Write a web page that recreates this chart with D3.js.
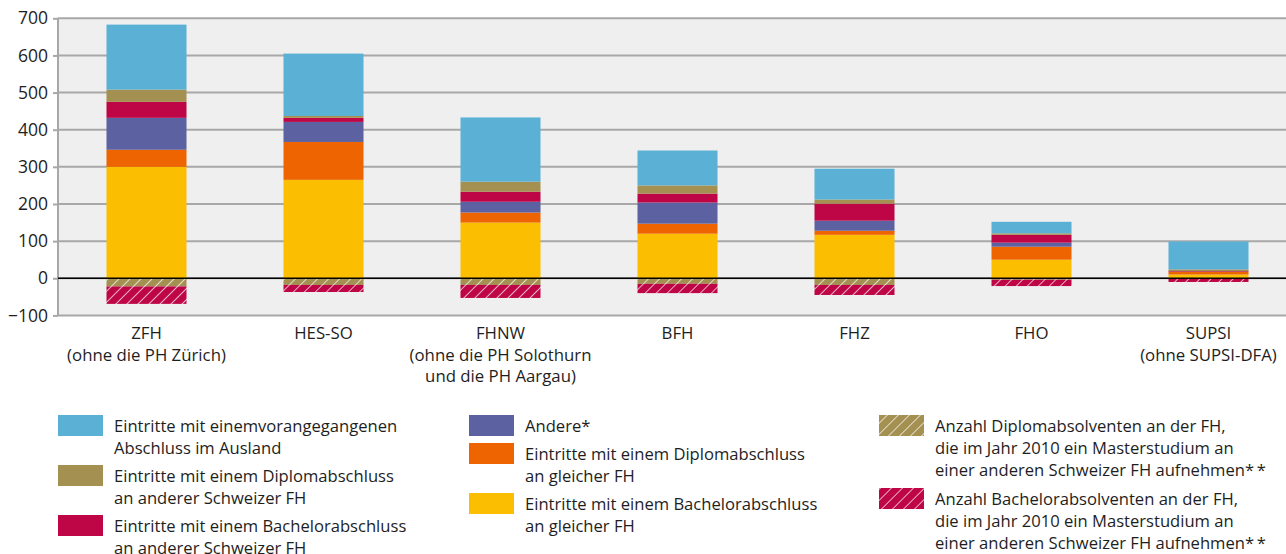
<!DOCTYPE html>
<html>
<head>
<meta charset="utf-8">
<script src="https://cdnjs.cloudflare.com/ajax/libs/d3/7.8.5/d3.min.js"></script>
<style>
  body { margin: 0; background: #fff; }
  text { font-family: "Open Sans", "Noto Sans", sans-serif; fill: #1e1e1e; }
  .cat_label { font-size: 16.8px; }
  .legend_text { font-size: 16.6px; }
</style>
</head>
<body>
<div id="chart"></div>
<script>

/* Masterstudium: Eintritte nach vorangegangenem Abschluss, stacked bars */

// data

var categories = ["ZFH", "HES-SO", "FHNW", "BFH", "FHZ", "FHO", "SUPSI"];

var categoryLines = [
  ["ZFH", "(ohne die PH Zürich)"],
  ["HES-SO"],
  ["FHNW", "(ohne die PH Solothurn", "und die PH Aargau)"],
  ["BFH"],
  ["FHZ"],
  ["FHO"],
  ["SUPSI", "(ohne SUPSI-DFA)"]
];

var bachelorGleich = [300, 265, 150, 120, 117, 50, 10];
var diplomGleich   = [46, 102, 27, 27, 11, 35, 7];
var andere         = [86, 54, 29, 57, 27, 11, 0];
var bachelorAnder  = [43, 11, 27, 24, 46, 21, 2];
var diplomAnder    = [33, 5, 27, 22, 11, 4, 5];
var ausland        = [175, 168, 173, 94, 83, 31, 75];

var diplomAbsolv   = [-22, -18, -18, -15, -18, -4, -2];
var bachelorAbsolv = [-47, -19, -35, -25, -27, -17, -8];

var yTicks = [-100, 0, 100, 200, 300, 400, 500, 600, 700];

// series in stacking order (bottom to top, then negatives downward)

var series = [
  { key: "bachelorGleich", values: bachelorGleich, color: "#fbbe00", hatch: false },
  { key: "diplomGleich",   values: diplomGleich,   color: "#ee6400", hatch: false },
  { key: "andere",         values: andere,         color: "#5c61a2", hatch: false },
  { key: "bachelorAnder",  values: bachelorAnder,  color: "#be0646", hatch: false },
  { key: "diplomAnder",    values: diplomAnder,    color: "#a49152", hatch: false },
  { key: "ausland",        values: ausland,        color: "#5ab0d5", hatch: false },
  { key: "diplomAbsolv",   values: diplomAbsolv,   color: "#a49152", hatch: true },
  { key: "bachelorAbsolv", values: bachelorAbsolv, color: "#be0646", hatch: true }
];

// legend columns

var legendCols = [
  { x: 58, items: [
    { key: "ausland", lines: ["Eintritte mit einemvorangegangenen", "Abschluss im Ausland"] },
    { key: "diplomAnder", lines: ["Eintritte mit einem Diplomabschluss", "an anderer Schweizer FH"] },
    { key: "bachelorAnder", lines: ["Eintritte mit einem Bachelorabschluss", "an anderer Schweizer FH"] }
  ]},
  { x: 469, items: [
    { key: "andere", lines: ["Andere*"] },
    { key: "diplomGleich", lines: ["Eintritte mit einem Diplomabschluss", "an gleicher FH"] },
    { key: "bachelorGleich", lines: ["Eintritte mit einem Bachelorabschluss", "an gleicher FH"] }
  ]},
  { x: 879, items: [
    { key: "diplomAbsolv", lines: ["Anzahl Diplomabsolventen an der FH,", "die im Jahr 2010 ein Masterstudium an", "einer anderen Schweizer FH aufnehmen*\u2009*"] },
    { key: "bachelorAbsolv", lines: ["Anzahl Bachelorabsolventen an der FH,", "die im Jahr 2010 ein Masterstudium an", "einer anderen Schweizer FH aufnehmen*\u2009*"] }
  ]}
];

// sizes

var width = 1286,
    height = 554,
    plotLeft = 58,
    plotRight = 1297,
    plotTop = 18.3,
    plotBottom = 315.4;

var svg = d3.select("#chart")
  .append("svg")
    .attr("width", width)
    .attr("height", height);

// scales

var xScale = d3.scaleBand()
  .domain(categories)
  .range([plotLeft, plotRight])
  .paddingInner(0.548)
  .paddingOuter(0.274);

var yScale = d3.scaleLinear()
  .domain([-100, 700])
  .range([plotBottom, plotTop]);

// stacked data

var table = categories.map(function(c, i) {
  var row = { cat: c };
  series.forEach(function(s) { row[s.key] = s.values[i]; });
  return row;
});

var stacked = d3.stack()
  .keys(series.map(function(s) { return s.key; }))
  .offset(d3.stackOffsetDiverging)(table);

var colorOf = {};
series.forEach(function(s) { colorOf[s.key] = s; });

// hatch patterns

var defs = svg.append("defs");

series.filter(function(s) { return s.hatch; }).forEach(function(s) {
  var p = defs.append("pattern")
    .attr("id", "hatch_" + s.key)
    .attr("patternUnits", "userSpaceOnUse")
    .attr("width", 7.8)
    .attr("height", 7.8)
    .attr("patternTransform", "rotate(45)");
  p.append("rect")
    .attr("width", 7.8)
    .attr("height", 7.8)
    .attr("fill", s.color);
  p.append("line")
    .attr("x1", 0).attr("y1", 0)
    .attr("x2", 0).attr("y2", 7.8)
    .attr("stroke", "#fff")
    .attr("stroke-opacity", 0.85)
    .attr("stroke-width", 1.6);
});

function fillOf(key) {
  var s = colorOf[key];
  return s.hatch ? "url(#hatch_" + key + ")" : s.color;
}

// plot background

svg.append("rect")
  .attr("x", plotLeft)
  .attr("y", plotTop)
  .attr("width", width - plotLeft)
  .attr("height", plotBottom - plotTop)
  .attr("fill", "#efefef");

// gridlines

svg.append("g")
  .attr("class", "grid")
  .selectAll("line")
  .data(yTicks)
  .enter()
    .append("line")
      .attr("x1", plotLeft)
      .attr("x2", width)
      .attr("y1", function(d) { return yScale(d); })
      .attr("y2", function(d) { return yScale(d); })
      .attr("stroke", "#a8a8a8")
      .attr("stroke-width", 2);

// y axis

var yAxis = svg.append("g")
  .attr("class", "yAxis")
  .attr("transform", "translate(" + plotLeft + ",0)")
  .call(d3.axisLeft(yScale).tickValues(yTicks).tickSize(5).tickPadding(5).tickFormat(d3.format("d")));

yAxis.select(".domain")
  .attr("stroke", "#a8a8a8")
  .attr("stroke-width", 2)
  .attr("d", "M0," + plotTop + "V" + plotBottom);

yAxis.selectAll(".tick line")
  .attr("stroke", "#a8a8a8")
  .attr("stroke-width", 2);

yAxis.selectAll(".tick text")
  .attr("fill", "#1e1e1e")
  .style("font-size", "17.5px")
  .style("font-family", "'Open Sans', 'Noto Sans', sans-serif");

// bars

var layers = svg.append("g")
  .attr("class", "bars")
  .selectAll("g")
  .data(stacked)
  .enter()
    .append("g")
      .attr("fill", function(d) { return fillOf(d.key); });

layers.selectAll("rect")
  .data(function(d) { return d; })
  .enter()
    .append("rect")
      .attr("x", function(d) { return xScale(d.data.cat); })
      .attr("y", function(d) { return yScale(Math.max(d[0], d[1])); })
      .attr("width", xScale.bandwidth())
      .attr("height", function(d) { return Math.abs(yScale(d[0]) - yScale(d[1])); });

// zero line

svg.append("line")
  .attr("x1", plotLeft)
  .attr("x2", width)
  .attr("y1", yScale(0))
  .attr("y2", yScale(0))
  .attr("stroke", "#000")
  .attr("stroke-width", 1.6);

// category labels

var catLabels = svg.append("g")
  .selectAll("text")
  .data(categories)
  .enter()
    .append("text")
      .attr("class", "cat_label")
      .attr("text-anchor", "middle")
      .attr("x", function(d) { return xScale(d) + xScale.bandwidth() / 2; })
      .attr("y", 339);

catLabels.each(function(d, i) {
  var t = d3.select(this);
  categoryLines[i].forEach(function(line, j) {
    t.append("tspan")
      .attr("x", xScale(d) + xScale.bandwidth() / 2)
      .attr("dy", j === 0 ? 0 : 21.5)
      .text(line);
  });
});

// legend

legendCols.forEach(function(col) {
  var y = 415;
  col.items.forEach(function(item) {
    var g = svg.append("g").attr("class", "legend_item");
    g.append("rect")
      .attr("x", col.x)
      .attr("y", y)
      .attr("width", 45)
      .attr("height", 21)
      .attr("fill", fillOf(item.key));
    var t = g.append("text")
      .attr("class", "legend_text")
      .attr("x", col.x + 56)
      .attr("y", y + 17);
    item.lines.forEach(function(line, j) {
      t.append("tspan")
        .attr("x", col.x + 56)
        .attr("dy", j === 0 ? 0 : 22)
        .text(line);
    });
    y += item.lines.length === 1 ? 28 : (item.lines.length === 2 ? 50 : 73);
  });
});

</script>
</body>
</html>
